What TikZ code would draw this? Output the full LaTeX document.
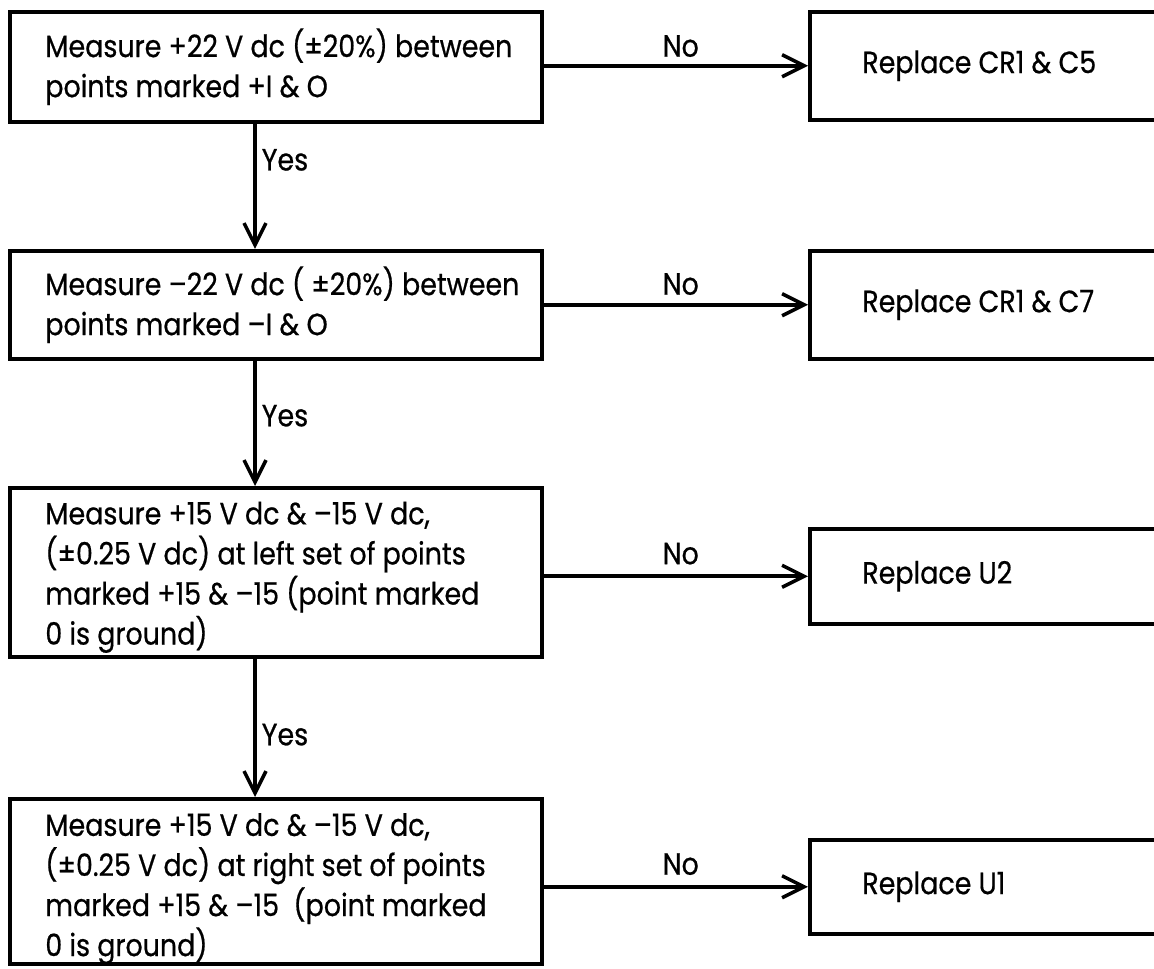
\documentclass[tikz,border=0pt]{standalone}
\usepackage{fontspec}
\setmainfont{Poppins}[FakeStretch=0.875,FakeBold=0.6]
\usetikzlibrary{arrows.meta,positioning}

\tikzset{
  chkbox/.style={draw,line width=2pt,minimum width=10.64cm,anchor=north west,inner sep=0pt},
  fixbox/.style={draw,line width=2pt,minimum width=7.04cm,anchor=north west,inner sep=0pt},
  boxtext/.style={align=left,anchor=west,inner sep=0pt,font=\fontsize{17.5}{22.8}\selectfont},
  flow/.style={line width=2pt,-{Straight Barb[length=0.44cm,width=0.44cm,line width=2pt]}},
  lbl/.style={font=\fontsize{17.5}{20}\selectfont,inner sep=0pt}
}

\begin{document}
\begin{tikzpicture}
  \useasboundingbox (0,0) rectangle (23.08,-19.38);
  % checks on the left
  \node[chkbox,minimum height=2.2cm]  (m1) at (0.16,-0.2) {};
  \node[chkbox,minimum height=2.16cm] (m2) at (0.16,-4.98) {};
  \node[chkbox,minimum height=3.38cm] (m3) at (0.16,-9.72) {};
  \node[chkbox,minimum height=3.3cm]  (m4) at (0.16,-15.94) {};
  \node[boxtext,right=0.74cm of m1.west] (t1) {Measure +22 V dc (±20\%) between\\points marked +I \& O};
  \node[boxtext,right=0.74cm of m2.west] (t2) {Measure –22 V dc ( ±20\%) between\\points marked –I \& O};
  \node[boxtext,right=0.74cm of m3.west,yshift=-0.1cm] (t3) {Measure +15 V dc \& –15 V dc,\\(±0.25 V dc) at left set of points\\marked +15 \& –15 (point marked\\0 is ground)};
  \node[boxtext,right=0.74cm of m4.west,yshift=-0.15cm] (t4) {Measure +15 V dc \& –15 V dc,\\(±0.25 V dc) at right set of points\\marked +15 \& –15 \ (point marked\\0 is ground)};
  % replacements on the right
  \node[fixbox,minimum height=2.16cm] (f1) at (16.16,-0.2) {};
  \node[fixbox,minimum height=2.16cm] (f2) at (16.16,-4.98) {};
  \node[fixbox,minimum height=1.9cm]  (f3) at (16.16,-10.54) {};
  \node[fixbox,minimum height=1.88cm] (f4) at (16.16,-16.76) {};
  \node[boxtext,right=1.08cm of f1.west] (u1) {Replace CR1 \& C5};
  \node[boxtext,right=1.08cm of f2.west] (u2) {Replace CR1 \& C7};
  \node[boxtext,right=1.08cm of f3.west] (u3) {Replace U2};
  \node[boxtext,right=1.08cm of f4.west] (u4) {Replace U1};
  % no branches
  \draw[flow] (f1.west -| m1.east) -- node[lbl,above=0.14cm,xshift=0.1cm] {No} (f1.west);
  \draw[flow] (f2.west -| m2.east) -- node[lbl,above=0.16cm,xshift=0.1cm] {No} (f2.west);
  \draw[flow] (f3.west -| m3.east) -- node[lbl,above=0.2cm,xshift=0.1cm] {No} (f3.west);
  \draw[flow] (f4.west -| m4.east) -- node[lbl,above=0.2cm,xshift=0.1cm] {No} (f4.west);
  % yes branches
  \draw[flow] ([xshift=4.94cm]m1.south west) -- node[lbl,pos=0.29,right=0.1cm] {Yes} ([xshift=4.94cm]m2.north west);
  \draw[flow] ([xshift=4.94cm]m2.south west) -- node[lbl,pos=0.44,right=0.1cm] {Yes} ([xshift=4.94cm]m3.north west);
  \draw[flow] ([xshift=4.94cm]m3.south west) -- node[lbl,pos=0.55,right=0.1cm] {Yes} ([xshift=4.94cm]m4.north west);
\end{tikzpicture}
\end{document}
